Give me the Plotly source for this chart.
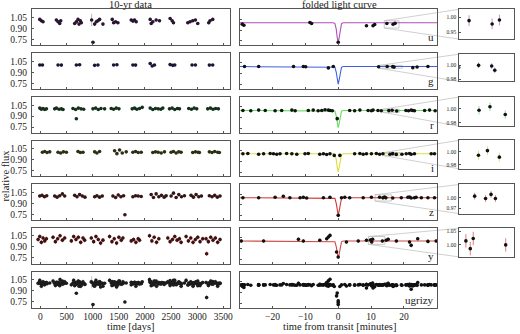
import plotly.graph_objects as go

# ---------------- 10-yr data (time [days], relative flux) ----------------
u_t = [-13, 18, 50, 305, 337, 369, 388, 655, 687, 719, 738, 763, 782,
       1037, 1069, 1100, 1132, 1196, 1374, 1400, 1438, 1482, 1737, 1769, 1800, 1832,
       2100, 2119, 2150, 2214, 2278, 2481, 2520, 2545, 2819, 2863, 2914, 2965, 3010,
       3220, 3245, 3296, 1005]
u_f = [1.023, 1.005, 0.991, 1.014, 0.991, 0.968, 1.005, 0.968, 0.991, 1.023, 0.959, 1.005, 0.977,
       0.959, 0.991, 1.005, 1.023, 0.959, 1.023, 0.977, 0.991, 0.977, 1.014, 1.0, 1.014, 0.991,
       1.023, 0.968, 0.991, 1.014, 1.005, 1.036, 1.005, 0.977, 0.977, 0.991, 1.005, 1.014, 0.968,
       0.977, 1.005, 1.023, 0.709]
u_wide_t = [980]
u_wide_f = [1.014]
u_wide_err = [0.085]

g_t = [-13, 38, 337, 400, 687, 750, 1037, 1100, 1400, 1463, 1769, 1820, 2100, 2138, 2182,
       2481, 2532, 2570, 2901, 2965, 3232, 3296]
g_f = [1.0, 1.0, 1.0, 0.998, 1.0, 1.002, 0.995, 1.0, 1.0, 1.003, 1.0, 0.998, 1.02, 0.985, 1.0,
       1.005, 0.995, 1.0, 1.0, 1.0, 0.998, 1.0]

r_t = [-13, 18, 50, 82, 114, 273, 305, 356, 400, 432, 623, 674, 725, 776, 827,
       1005, 1056, 1107, 1158, 1228, 1355, 1400, 1451, 1502, 1756, 1800, 1845, 1896, 1947,
       2100, 2150, 2201, 2252, 2303, 2341, 2469, 2520, 2570, 2621, 2660,
       2838, 2889, 2940, 2990, 3200, 3251, 3302, 3353, 3404, 687]
r_f = [1.01, 0.995, 1.005, 0.99, 1.0, 1.0, 1.01, 0.995, 1.0, 0.99, 1.005, 0.99, 1.01, 1.0, 0.995,
       1.0, 1.01, 0.99, 1.005, 1.0, 1.005, 0.995, 1.01, 1.0, 1.0, 1.01, 0.995, 1.005, 1.02,
       1.01, 0.99, 1.005, 1.0, 0.995, 1.01, 1.0, 1.01, 0.99, 1.005, 1.0,
       1.005, 0.995, 1.01, 1.0, 1.0, 1.01, 0.995, 1.005, 1.0, 0.864]

i_t = [38, 82, 127, 178, 337, 388, 439, 496, 719, 763, 814, 1037, 1081, 1132,
       1419, 1463, 1514, 1565, 1641, 1769, 1820, 1870, 1928, 2150, 2201, 2252, 2310, 2373,
       2500, 2545, 2596, 2647, 2691, 2914, 2965, 3016, 3041, 3232, 3283, 3334, 3391, 3423]
i_f = [1.0, 1.01, 0.995, 1.005, 1.0, 0.99, 1.005, 1.0, 1.01, 0.995, 1.0, 1.005, 0.99, 1.01,
       1.02, 0.98, 1.03, 0.99, 1.005, 1.0, 1.01, 0.995, 1.0, 0.995, 1.005, 1.0, 0.99, 1.005,
       1.0, 1.01, 0.99, 1.005, 1.0, 0.995, 1.005, 1.0, 0.995, 1.005, 0.995, 1.01, 1.0, 0.995]

z_t = [-13, 31, 76, 120, 273, 318, 369, 420, 464, 655, 700, 750, 801, 852,
       1037, 1081, 1132, 1183, 1387, 1438, 1489, 1540, 1591, 1769, 1820, 1870, 1928,
       2119, 2163, 2214, 2265, 2316, 2367, 2405, 2500, 2545, 2596, 2647, 2698, 2755,
       2882, 2927, 2978, 3029, 3080, 3232, 3283, 3334, 3385, 3436, 1616]
z_f = [1.0, 1.01, 0.99, 1.005, 1.0, 0.985, 1.005, 1.03, 1.0, 1.01, 0.99, 1.02, 1.0, 0.985,
       0.99, 1.005, 0.985, 1.0, 1.0, 0.98, 1.015, 0.99, 1.005, 0.99, 1.005, 1.0, 0.995,
       1.02, 0.98, 1.03, 0.99, 1.01, 0.985, 1.005, 1.0, 1.04, 0.98, 1.02, 0.99, 1.005,
       1.01, 0.985, 1.02, 0.99, 1.0, 1.005, 0.99, 1.01, 0.985, 1.0, 0.745]

y_t = [-45, -13, 18, 50, 82, 114, 241, 286, 330, 375, 420, 464,
       591, 636, 680, 725, 770, 814, 846, 973, 1018, 1062, 1107, 1151, 1196,
       1323, 1368, 1412, 1457, 1501, 1546, 1578, 1737, 1781, 1826, 1870, 1896,
       2087, 2132, 2176, 2221, 2265, 2437, 2481, 2526, 2570, 2615, 2660, 2691,
       2787, 2831, 2876, 2920, 2965, 3010, 3054, 3105,
       3169, 3213, 3258, 3302, 3347, 3391, 3436, 3180]
y_f = [1.0, 1.04, 0.96, 1.02, 0.98, 1.01, 1.03, 0.97, 1.01, 1.05, 0.99, 1.02,
       0.98, 1.04, 1.0, 1.03, 0.96, 1.02, 0.99, 1.02, 0.97, 1.04, 1.0, 0.95, 0.99,
       1.04, 0.97, 1.01, 0.95, 1.03, 0.99, 1.02, 0.98, 1.0, 0.96, 1.01, 0.99,
       1.05, 0.98, 1.03, 0.96, 1.01, 1.02, 0.97, 1.0, 1.04, 0.99, 1.01, 0.96,
       1.04, 0.98, 1.02, 0.96, 1.0, 1.03, 0.97, 1.01,
       1.01, 0.97, 1.03, 0.99, 1.02, 0.96, 1.0, 0.805]

# typical per-point uncertainties
u_err, g_err, r_err, i_err, z_err, y_err = 0.02, 0.008, 0.015, 0.015, 0.02, 0.03

# ---------------- folded light curve (minutes from transit, relative flux) ----------------
u_fold_t = [-29.2, -28.7, -8.6, -8.1, 0.0, 8.6, 10.6, 11.1, 14.8, 16.7, 17.3]
u_fold_f = [0.98, 0.965, 1.003, 0.99, 0.731, 0.958, 0.958, 0.975, 0.989, 0.978, 0.991]

g_fold_t = [-28.5, -24.2, -13.6, -10.6, -9.9, -3.0, -1.5, 12.3, 14.9, 16.6, 17.0, 22.7, 24.0, 27.3]
g_fold_f = [1.0, 1.0, 1.0, 1.0, 0.997, 0.982, 1.0, 0.997, 1.0, 0.999, 0.993, 0.985, 0.994, 1.0]

r_fold_t = [-29.0, -26.6, -24.2, -22.2, -19.2, -17.2, -14.1, -13.1, -9.1, -7.6, -6.1, -5.0, -4.0,
            -3.0, -2.5, -1.8, -0.3, 3.5, 5.0, 6.6, 9.1, 10.1, 10.6, 12.1, 13.1, 15.4, 16.4, 17.8,
            20.6, 21.4, 22.2, 22.7, 23.2, 26.3, 27.8, 29.5]
r_fold_f = [1.0, 0.995, 1.005, 1.0, 0.995, 1.0, 1.005, 0.995, 1.0, 1.005, 0.995, 1.0, 1.01,
            1.005, 1.0, 0.995, 0.888, 1.0, 0.995, 1.005, 1.0, 0.995, 1.005, 1.0, 0.995, 0.998,
            1.003, 0.992, 1.0, 0.995, 1.005, 1.0, 0.995, 1.0, 1.005, 0.995]

i_fold_t = [-29.0, -27.5, -24.2, -22.7, -20.7, -19.7, -18.7, -17.7, -15.7, -14.1, -12.6, -10.1, -9.1,
            -5.6, -4.5, -3.5, -2.5, -1.2, 0.5, 5.0, 6.6, 7.6, 8.6, 10.1, 11.6, 12.6, 13.6,
            15.75, 16.57, 17.66, 19.4, 20.7, 21.7, 22.2, 23.2, 28.3, 29.3]
i_fold_f = [1.0, 1.005, 0.995, 1.0, 1.005, 1.0, 0.995, 1.0, 1.005, 1.0, 0.995, 1.0, 1.005,
            0.995, 1.0, 0.99, 1.0, 0.978, 0.978, 1.0, 1.005, 0.995, 1.0, 1.0, 1.005, 0.995, 1.0,
            0.995, 1.002, 0.992, 0.995, 1.0, 1.005, 0.995, 1.0, 1.0, 1.0]

z_fold_t = [-29.0, -24.2, -19.2, -16.7, -14.7, -11.6, -10.6, -9.6, -4.5, -2.5, 0.0, 1.0, 2.0, 3.5,
            7.6, 10.1, 12.6, 13.6, 14.1, 14.5, 16.6, 19.2, 21.2, 21.7, 22.2, 23.2, 23.7, 25.3, 27.3, 29.3]
z_fold_f = [1.0, 1.0, 1.005, 1.02, 1.0, 1.0, 1.005, 0.995, 1.0, 1.005, 0.758, 1.0, 1.005, 1.0,
            1.0, 1.005, 1.005, 0.998, 1.01, 0.998, 0.995, 1.0, 1.005, 1.01, 0.995, 1.0, 1.005, 1.0, 1.0, 1.0]

y_fold_t = [-29.5, -22.7, -12.1, -10.6, -5.6, -3.5, -3.0, -2.5, -0.5, 0.0, 2.5, 6.1, 8.6,
            9.8, 10.2, 10.47, 13.44, 14.6, 15.2, 17.7, 21.7, 22.2, 24.2, 27.3, 29.8]
y_fold_f = [1.0, 1.0, 1.023, 1.0, 1.01, 1.032, 1.055, 1.077, 0.85, 0.782, 0.986, 1.0, 1.01,
            1.015, 0.986, 1.024, 1.0, 1.01, 1.023, 1.0, 0.986, 0.941, 1.032, 0.995, 1.0]

u_fold_err, g_fold_err, r_fold_err, i_fold_err, z_fold_err, y_fold_err = 0.018, 0.004, 0.006, 0.007, 0.01, 0.025

# transit model curves
model_t = [-30, -2.0, -1.5, -1.0, -0.6, -0.3, 0.0, 0.3, 0.6, 1.0, 1.5, 2.0, 30.2]
u_model = [1, 1, 1, 0.988, 0.912, 0.796, 0.731, 0.796, 0.912, 0.988, 1, 1, 1]
g_model = [1, 1, 1, 0.99, 0.922, 0.82, 0.761, 0.82, 0.922, 0.99, 1, 1, 1]
r_model = [1, 1, 1, 0.99, 0.923, 0.822, 0.764, 0.822, 0.923, 0.99, 1, 1, 1]
i_model = [1, 1, 1, 0.989, 0.919, 0.813, 0.752, 0.813, 0.919, 0.989, 1, 1, 1]
z_model = [1, 1, 1, 0.99, 0.922, 0.82, 0.761, 0.82, 0.922, 0.99, 1, 1, 1]
y_model = [1, 1, 1, 0.99, 0.923, 0.822, 0.764, 0.822, 0.923, 0.99, 1, 1, 1]

# inset windows (minutes, flux) and their tick values
u_zoom_t, u_zoom_f, u_zoom_ticks = [14.0, 18.5], [0.927, 1.027], [0.95, 1.00]
g_zoom_t, g_zoom_f, g_zoom_ticks = [12.4, 19.5], [0.977, 1.016], [0.98, 1.00]
r_zoom_t, r_zoom_f, r_zoom_ticks = [13.6, 18.6], [0.975, 1.017], [0.98, 1.00]
i_zoom_t, i_zoom_f, i_zoom_ticks = [14.0, 19.0], [0.974, 1.018], [0.98, 1.00]
z_zoom_t, z_zoom_f, z_zoom_ticks = [11.2, 16.2], [0.954, 1.039], [0.97, 1.00]
y_zoom_t, y_zoom_f, y_zoom_ticks = [9.2, 14.2], [0.955, 1.062], [1.00, 1.05]

band_names = ['u', 'g', 'r', 'i', 'z', 'y', 'ugrizy']
left_ticks = [0.75, 0.90, 1.05]
day_ticks = [0, 500, 1000, 1500, 2000, 2500, 3000, 3500]
minute_ticks = [-20, -10, 0, 10, 20]

# ---------------- styling / layout ----------------
W, H = 520, 334
FONT = 'Liberation Serif'
TXT = '#222222'
FRAME = '#555555'
row_top = [9.5, 53.5, 97.5, 141.0, 185.0, 228.5, 272.5]
PANEL_H = 36
LEFT = (32, 231.5)
MID = (241, 440)
INS = (462, 517)
ins_top = [9.3, 54.3, 97.3, 140.7, 185.0, 229.0]
ins_h = [30, 27.4, 29.4, 28.6, 29.3, 28.7]
left_yrange = [0.668, 1.159]
mid_yrange = [0.69, 1.181]
day_range = [-165, 3630]
min_range = [-30, 30.2]

model_col = {'u': '#b050b8', 'g': '#3f5fe0', 'r': '#5ee05e', 'i': '#dede3a', 'z': '#d03a3a', 'y': '#d04a4a'}
err_col = {'u': '#c58fcf', 'g': '#8c9ff0', 'r': '#8fe28f', 'i': '#e2e27e', 'z': '#e88a8a', 'y': '#e47c7c',
           'ugrizy': '#a8a8a8'}
left_marker = {'u': '#2a1530', 'g': '#161638', 'r': '#15301a', 'i': '#2e2e14', 'z': '#341616',
               'y': '#3e1212', 'ugrizy': '#1c1c1c'}

left_data = {'u': (u_t, u_f, u_err), 'g': (g_t, g_f, g_err), 'r': (r_t, r_f, r_err),
             'i': (i_t, i_f, i_err), 'z': (z_t, z_f, z_err), 'y': (y_t, y_f, y_err)}
fold_data = {'u': (u_fold_t, u_fold_f, u_fold_err), 'g': (g_fold_t, g_fold_f, g_fold_err),
             'r': (r_fold_t, r_fold_f, r_fold_err), 'i': (i_fold_t, i_fold_f, i_fold_err),
             'z': (z_fold_t, z_fold_f, z_fold_err), 'y': (y_fold_t, y_fold_f, y_fold_err)}
models = {'u': u_model, 'g': g_model, 'r': r_model, 'i': i_model, 'z': z_model, 'y': y_model}
zooms = {'u': (u_zoom_t, u_zoom_f, u_zoom_ticks), 'g': (g_zoom_t, g_zoom_f, g_zoom_ticks),
         'r': (r_zoom_t, r_zoom_f, r_zoom_ticks), 'i': (i_zoom_t, i_zoom_f, i_zoom_ticks),
         'z': (z_zoom_t, z_zoom_f, z_zoom_ticks), 'y': (y_zoom_t, y_zoom_f, y_zoom_ticks)}


def refs(n):
    return ('x' if n == 1 else f'x{n}', 'y' if n == 1 else f'y{n}')


def keys(n):
    return ('xaxis' if n == 1 else f'xaxis{n}', 'yaxis' if n == 1 else f'yaxis{n}')


def xdom(a, b):
    return [a / W, b / W]


def ydom(top, h):
    return [1 - (top + h) / H, 1 - top / H]


base = dict(showline=True, mirror=True, linecolor=FRAME, linewidth=1, showgrid=False,
            zeroline=False, ticks='inside', ticklen=2, tickwidth=1, tickcolor=FRAME,
            tickfont=dict(family=FONT, size=9.5, color=TXT))

fig = go.Figure()
layout = {}
shapes = []


def add_points(n, xs, ys, err, ecol, size=3.6, mcol='#111111'):
    xr, yr = refs(n)
    fig.add_trace(go.Scatter(
        x=xs, y=ys, mode='markers', xaxis=xr, yaxis=yr, showlegend=False, hoverinfo='skip',
        marker=dict(size=size, color=mcol, line=dict(width=0)),
        error_y=dict(type='data', array=[err] * len(xs) if not isinstance(err, list) else err,
                     color=ecol, thickness=1, width=0)))


for r, band in enumerate(band_names):
    nl, nm, ni = 3 * r + 1, 3 * r + 2, 3 * r + 3
    bottom_row = (r == len(band_names) - 1)

    # ---- left: 10-yr data
    kx, ky = keys(nl)
    xr, yr = refs(nl)
    layout[kx] = dict(base, domain=xdom(*LEFT), anchor=yr, range=day_range, tickvals=day_ticks,
                      showticklabels=bottom_row, ticklabelstandoff=0)
    layout[ky] = dict(base, domain=ydom(row_top[r], PANEL_H), anchor=xr, range=left_yrange,
                      tickvals=left_ticks, ticktext=['0.75', '0.90', '1.05'], ticklabelstandoff=2)
    if band == 'ugrizy':
        ts, fs, es = [], [], []
        for b in band_names[:-1]:
            t, f, e = left_data[b]
            ts += t
            fs += f
            es += [e] * len(t)
        add_points(nl, u_wide_t, u_wide_f, u_wide_err, '#c8c8c8', mcol=left_marker[band])
        add_points(nl, ts, fs, es, err_col['ugrizy'], mcol=left_marker[band])
    else:
        t, f, e = left_data[band]
        if band == 'u':
            add_points(nl, u_wide_t, u_wide_f, u_wide_err, '#b8b8b8', mcol=left_marker[band])
        add_points(nl, t, f, e, err_col[band], mcol=left_marker[band])

    # ---- middle: folded light curve
    kx, ky = keys(nm)
    xr, yr = refs(nm)
    layout[kx] = dict(base, domain=xdom(*MID), anchor=yr, range=min_range, tickvals=minute_ticks,
                      showticklabels=bottom_row, ticklabelstandoff=0)
    layout[ky] = dict(base, domain=ydom(row_top[r], PANEL_H), anchor=xr, range=mid_yrange,
                      tickvals=left_ticks, showticklabels=False)
    if band == 'ugrizy':
        ts, fs, es = [], [], []
        for b in band_names[:-1]:
            t, f, e = fold_data[b]
            ts += t
            fs += f
            es += [e] * len(t)
        add_points(nm, ts, fs, es, err_col['ugrizy'])
    else:
        fig.add_trace(go.Scatter(x=model_t, y=models[band], mode='lines', xaxis=xr, yaxis=yr,
                                 showlegend=False, hoverinfo='skip',
                                 line=dict(color=model_col[band], width=1.1)))
        t, f, e = fold_data[band]
        add_points(nm, t, f, e, err_col[band])

    # band label
    fig.add_annotation(text=band, xref='paper', yref='paper', x=438.5 / W,
                       y=1 - (row_top[r] + PANEL_H) / H, xanchor='right', yanchor='bottom',
                       showarrow=False, font=dict(family=FONT, size=11, color=TXT))

    # ---- inset zoom
    if band != 'ugrizy':
        zt, zf, zticks = zooms[band]
        kx, ky = keys(ni)
        xr, yr = refs(ni)
        layout[kx] = dict(base, domain=xdom(*INS), anchor=yr, range=zt, ticks='',
                          showticklabels=False)
        layout[ky] = dict(base, domain=ydom(ins_top[r], ins_h[r]), anchor=xr, range=zf,
                          tickvals=zticks, ticktext=[f'{v:.2f}' for v in zticks],
                          ticklen=1.5, ticklabelstandoff=1,
                          tickfont=dict(family=FONT, size=5.5, color=TXT))
        t, f, e = fold_data[band]
        add_points(ni, t, f, e, err_col[band])

        # rectangle in the folded panel and connector lines
        mxr, myr = refs(nm)
        shapes.append(dict(type='rect', xref=mxr, yref=myr, x0=zt[0], x1=zt[1], y0=zf[0], y1=zf[1],
                           line=dict(color='#bdbdbd', width=0.8), layer='below'))

        def mpx(v):
            return (MID[0] + (v - min_range[0]) / (min_range[1] - min_range[0]) * (MID[1] - MID[0])) / W

        def mpy(v):
            return 1 - (row_top[r] + (mid_yrange[1] - v) / (mid_yrange[1] - mid_yrange[0]) * PANEL_H) / H

        shapes.append(dict(type='line', xref='paper', yref='paper', x0=mpx(zt[0]), y0=mpy(zf[1]),
                           x1=INS[0] / W, y1=1 - ins_top[r] / H,
                           line=dict(color='#c4c4c4', width=0.8), layer='below'))
        shapes.append(dict(type='line', xref='paper', yref='paper', x0=mpx(zt[0]), y0=mpy(zf[0]),
                           x1=INS[0] / W, y1=1 - (ins_top[r] + ins_h[r]) / H,
                           line=dict(color='#c4c4c4', width=0.8), layer='below'))

texts = [
    ('10-yr data', 131.5, 5.0, 0),
    ('folded light curve', 341.0, 5.0, 0),
    ('relative flux', 6.0, 176.0, -90),
    ('time [days]', 132.0, 327.5, 0),
    ('time from transit [minutes]', 341.0, 327.5, 0),
]
for txt, px, py, ang in texts:
    fig.add_annotation(text=txt, xref='paper', yref='paper', x=px / W, y=1 - py / H,
                       xanchor='center', yanchor='middle', showarrow=False, textangle=ang,
                       font=dict(family=FONT, size=10.5, color=TXT))

fig.update_layout(width=W, height=H, margin=dict(l=0, r=0, t=0, b=0),
                  paper_bgcolor='white', plot_bgcolor='rgba(0,0,0,0)',
                  font=dict(family=FONT, color=TXT), shapes=shapes, **layout)

fig.write_html('out.html', config={'displayModeBar': False},
               post_script="document.body.style.margin='0';document.body.style.overflow='hidden';")
